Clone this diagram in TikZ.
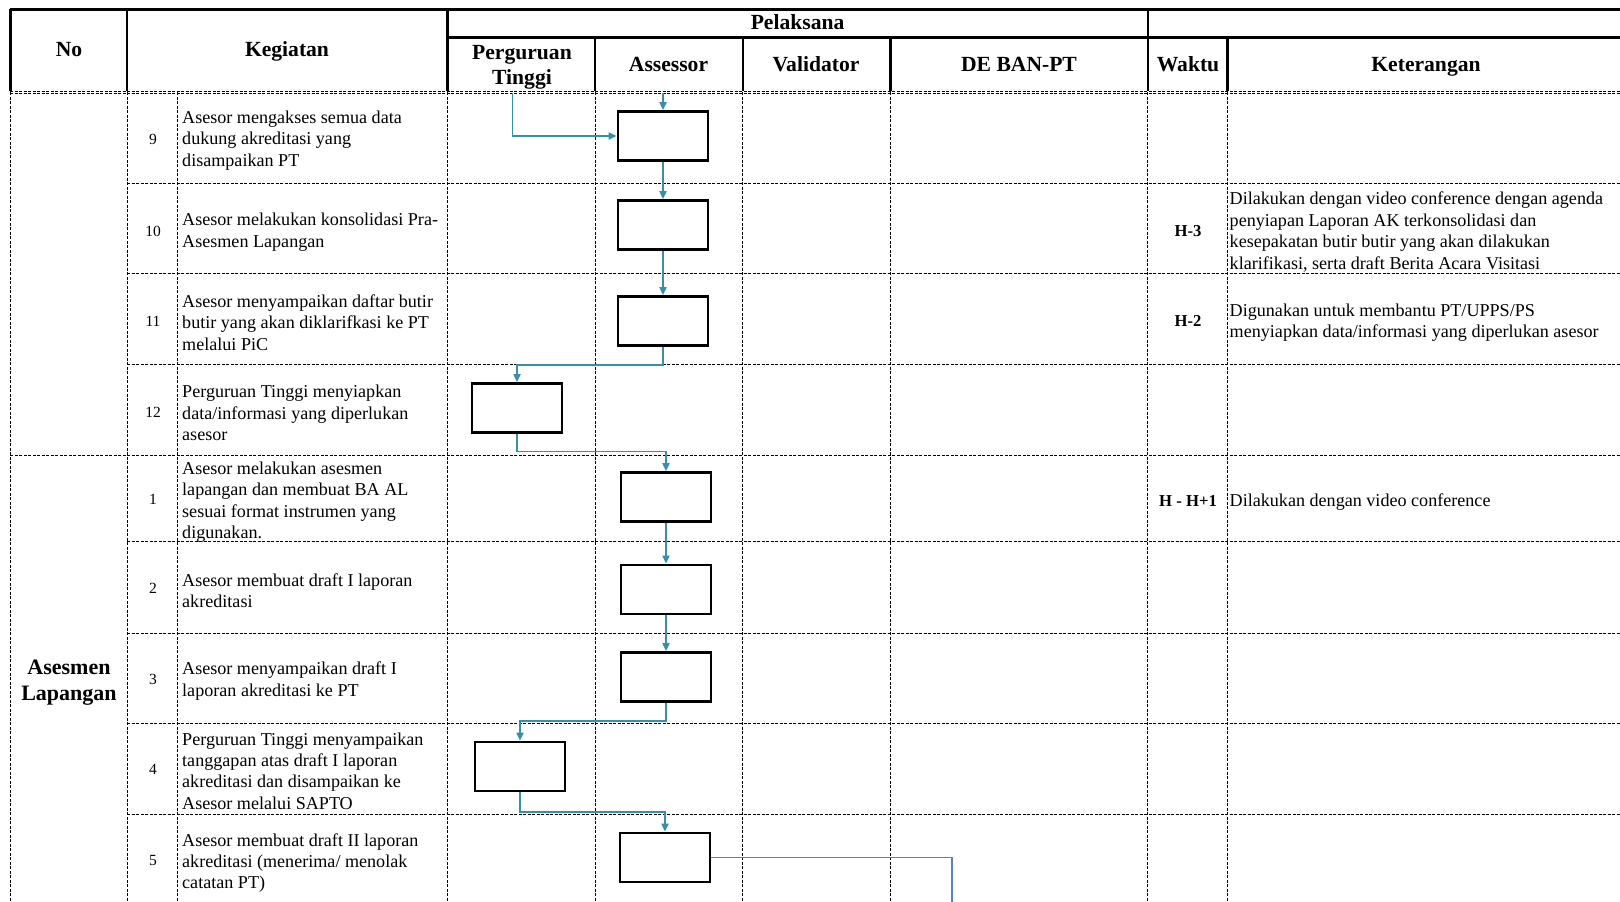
\documentclass[tikz,border=0pt]{standalone}
\usepackage{fontspec}
\setmainfont{Liberation Serif}
\usetikzlibrary{arrows.meta,calc}
\definecolor{flowc}{RGB}{55,143,170}
\definecolor{flowb}{RGB}{86,132,190}
\tikzset{
  gridline/.style={line width=0.9pt, dash pattern=on 3pt off 1.5pt},
  hdrline/.style={line width=2.6pt},
  stepbox/.style={draw, line width=2.8pt, minimum width=90pt, minimum height=49pt, inner sep=0pt},
  flow/.style={draw=flowc, line width=1.9pt, -{Triangle[length=8pt,width=7pt]}},
  flowend/.style={draw=flowb, line width=1.9pt},
  keg/.style={anchor=west, align=left, inner sep=0pt, font=\fontsize{18.1}{21.35}\selectfont},
  num/.style={inner sep=0pt, font=\fontsize{15.5}{17}\selectfont},
  head/.style={inner sep=0pt, align=center, font=\bfseries\fontsize{21.6}{24.8}\selectfont},
  sect/.style={inner sep=0pt, align=center, font=\bfseries\fontsize{22}{25.8}\selectfont},
  wak/.style={inner sep=0pt, font=\bfseries\fontsize{16.7}{18}\selectfont},
}
\begin{document}
\begin{tikzpicture}[x=1pt,y=-1pt]
\useasboundingbox (0,0) rectangle (1620,902);
\fill[white] (0,0) rectangle (1620,902);
% ---------- grid below header ----------
\foreach \yy in {183.9,273.8,364.7,541.4,633.3,723.2,814.2}
  \draw[gridline] (127.1,\yy) -- (1620,\yy);
\draw[gridline] (10.3,455.6) -- (1620,455.6);
\draw[gridline] (10.3,91.2) -- (1620,91.2);
\draw[gridline] (10.3,93.6) -- (1620,93.6);
\foreach \xx in {10.3,127.1,177.7,447.4,595.1,742.9,890.6,1147.9,1227.5}
  \draw[gridline] (\xx,92) -- (\xx,902);
% ---------- header ----------
\draw[hdrline] (10.3,9.3) -- (1620,9.3);
\draw[hdrline] (447.4,37.2) -- (1620,37.2);
\foreach \xx in {10.3,127.1,447.4,1147.9}
  \draw[hdrline] (\xx,9.3) -- (\xx,91);
\foreach \xx in {595.1,742.9,890.6,1227.5}
  \draw[hdrline] (\xx,37.2) -- (\xx,91);
\node[head,anchor=base] (hno) at (69,56.5) {No};
\node[head,anchor=base] (hkeg) at (287,56.5) {Kegiatan};
\node[head,anchor=base] (hpel) at (797.6,29) {Pelaksana};
\node[head] (hpt) at (522,67) {Perguruan\\Tinggi};
\node[head,anchor=base] (has) at (668.5,71) {Assessor};
\node[head,anchor=base] (hva) at (816,71) {Validator};
\node[head,anchor=base] (hde) at (1019,71) {DE BAN-PT};
\node[head,anchor=base] (hwa) at (1188,71) {Waktu};
\node[head,anchor=base] (hke) at (1426,71) {Keterangan};
\node[sect] (sec) at (69,683) {Asesmen\\Lapangan};
% ---------- numbers ----------
\node[num] (n9) at (153,139) {9};
\node[num] (n10) at (153,231) {10};
\node[num] (n11) at (153,321) {11};
\node[num] (n12) at (153,412) {12};
\node[num] (n1) at (153,499.5) {1};
\node[num] (n2) at (153,588.5) {2};
\node[num] (n3) at (153,679.5) {3};
\node[num] (n4) at (153,769.5) {4};
\node[num] (n5) at (153,860.5) {5};
% ---------- activities ----------
\node[keg] (k9) at (182,140.5) {Asesor mengakses semua data\\dukung akreditasi yang\\disampaikan PT};
\node[keg] (k10) at (182,232) {Asesor melakukan konsolidasi Pra-\\Asesmen Lapangan};
\node[keg] (k11) at (182,322.5) {Asesor menyampaikan daftar butir\\butir yang akan diklarifkasi ke PT\\melalui PiC};
\node[keg] (k12) at (182,413) {Perguruan Tinggi menyiapkan\\data/informasi yang diperlukan\\asesor};
\node[keg] (k1) at (182,502) {Asesor melakukan asesmen\\lapangan dan membuat BA AL\\sesuai format instrumen yang\\digunakan.};
\node[keg] (k2) at (182,590.5) {Asesor membuat draft I laporan\\akreditasi};
\node[keg] (k3) at (182,681) {Asesor menyampaikan draft I\\laporan akreditasi ke PT};
\node[keg] (k4) at (182,771) {Perguruan Tinggi menyampaikan\\tanggapan atas draft I laporan\\akreditasi dan disampaikan ke\\Asesor melalui SAPTO};
\node[keg] (k5) at (182,863) {Asesor membuat draft II laporan\\akreditasi (menerima/ menolak\\catatan PT)};
% ---------- waktu ----------
\node[wak] (w10) at (1188,231) {H-3};
\node[wak] (w11) at (1188,321) {H-2};
\node[wak] (w1) at (1188,500.5) {H - H+1};
% ---------- keterangan ----------
\node[keg] (c10) at (1229.5,232) {Dilakukan dengan video conference dengan agenda\\penyiapan Laporan AK terkonsolidasi dan\\kesepakatan butir butir yang akan dilakukan\\klarifikasi, serta draft Berita Acara Visitasi};
\node[keg] (c11) at (1229.5,322.5) {Digunakan untuk membantu PT/UPPS/PS\\menyiapkan data/informasi yang diperlukan asesor};
\node[keg] (c1) at (1229.5,502) {Dilakukan dengan video conference};
% ---------- boxes ----------
\node[stepbox] (b9) at (663,136) {};
\node[stepbox] (b10) at (663,225) {};
\node[stepbox] (b11) at (663,321) {};
\node[stepbox] (b12) at (517,408) {};
\node[stepbox] (b1) at (666,497) {};
\node[stepbox] (b2) at (666,589.5) {};
\node[stepbox] (b3) at (666,677) {};
\node[stepbox] (b4) at (520,766.5) {};
\node[stepbox] (b5) at (665,857.5) {};
% ---------- connectors ----------
\coordinate (inA) at (663,93);
\coordinate (inB) at (512.5,93);
\coordinate (outE) at (952,902);
\draw[flow] (inA) -- (b9.north);
\draw[flow] (inB) |- (b9.west);
\draw[flow] (b9.south) -- (b10.north);
\draw[flow] (b10.south) -- (b11.north);
\draw[flow] (b11.south) -- (b11.south |- 0,364.7) -| (b12.north);
\draw[flow] (b12.south) -- (b12.south |- 0,451.5) -| (b1.north);
\draw[flow] (b1.south) -- (b2.north);
\draw[flow] (b2.south) -- (b3.north);
\draw[flow] (b3.south) -- (b3.south |- 0,721) -| (b4.north);
\draw[flow] (b4.south) -- (b4.south |- 0,812) -| (b5.north);
\draw[flowend] (b5.east) -| (outE);
\end{tikzpicture}
\end{document}
